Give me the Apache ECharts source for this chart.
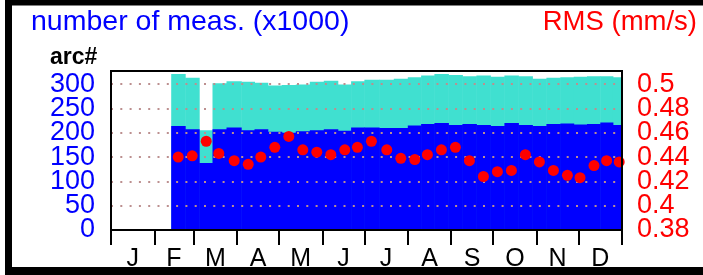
<!DOCTYPE html>
<html lang="en" style="height: 100%">
  <head>
    <meta charset="utf-8" />
  </head>
  <body style="height: 100%; margin: 0; background: #fff">
    <div id="container" style="width: 703px; height: 275px"></div>

    <script
      type="text/javascript"
      src="https://cdn.jsdelivr.net/npm/echarts@6/dist/echarts.min.js"
    ></script>

    <script type="text/javascript">
      // month ticks (day of year) and labels
      var monthStarts = [0, 31, 59, 90, 120, 151, 181, 212, 243, 273, 304, 334, 365];
      var monthMids = [15.5, 45, 74.5, 105, 135.5, 166, 196.5, 227.5, 258, 288.5, 319, 349.5];
      var monthLetters = ["J", "F", "M", "A", "M", "J", "J", "A", "S", "O", "N", "D"];

      // centre day of each ~10 day period
      var periodDays = [
        48, 58, 68, 77, 88, 98, 107, 117, 127, 137, 147, 157, 167, 176, 186, 197,
        207, 217, 226, 236, 246, 256, 266, 276, 286, 296, 306, 316, 326, 335, 345,
        354, 363,
      ];
      // number of measurements (x1000), all / arc
      var totalMeas = [
        321, 313, 205, 302, 306, 305, 303, 297, 298, 299, 305, 307, 299, 306, 309,
        309, 311, 314, 318, 321, 319, 316, 318, 315, 318, 316, 311, 313, 314, 315,
        316, 316, 314,
      ];
      var arcMeas = [
        214, 207, 138, 207, 211, 205, 207, 202, 200, 203, 205, 207, 204, 211, 211,
        210, 210, 215, 218, 220, 216, 218, 216, 214, 220, 216, 214, 218, 219, 217,
        218, 221, 216,
      ];
      // RMS (mm/s)
      var rmsVals = [
        0.44, 0.441, 0.453, 0.443, 0.437, 0.434, 0.44, 0.448, 0.457, 0.446, 0.444,
        0.442, 0.446, 0.448, 0.453, 0.446, 0.439, 0.438, 0.442, 0.446, 0.448,
        0.437, 0.424, 0.428, 0.429, 0.442, 0.436, 0.429, 0.425, 0.423, 0.433,
        0.437, 0.436,
      ];

      var FONT = "Liberation Sans, Arial, sans-serif";
      var COUNT_MIN = 0, COUNT_MAX = 327, COUNT_STEP = 50;
      var RMS_MIN = 0.38, RMS_MAX = 0.5108, RMS_STEP = 0.02;

      function barItem(values, color) {
        return function (params, api) {
          var i = params.dataIndex;
          var d = periodDays;
          var n = d.length;
          var left = i > 0 ? (d[i - 1] + d[i]) / 2 : d[i] - (d[1] - d[0]) / 2;
          var right = i < n - 1 ? (d[i] + d[i + 1]) / 2 : d[i] + (d[i] - d[i - 1]) / 2;
          var p0 = api.coord([left, values[i]]);
          var p1 = api.coord([right, 0]);
          return {
            type: "rect",
            shape: { x: p0[0], y: p0[1], width: p1[0] - p0[0] + 0.5, height: p1[1] - p0[1] },
            style: { fill: color },
          };
        };
      }

      // the tick labels sit closer than their height, so even and odd ones
      // go on two axes sharing one scale (keeps echarts from dropping any)
      function countAxis(even) {
        return {
          type: "value",
          position: "left",
          min: COUNT_MIN,
          max: COUNT_MAX,
          interval: COUNT_STEP,
          z: 3,
          axisLine: { show: false },
          axisTick: { show: false },
          splitLine: {
            show: even,
            lineStyle: { color: "#bc8f8f", width: 2, type: [2, 7.3] },
          },
          axisLabel: {
            color: "#0000ff",
            fontSize: 27,
            fontFamily: FONT,
            margin: 16,
            showMinLabel: even,
            showMaxLabel: false,
            formatter: function (v) {
              var k = Math.round((v - COUNT_MIN) / COUNT_STEP);
              return (k % 2 === 0) === even ? String(v) : "";
            },
          },
        };
      }

      function rmsAxis(even) {
        return {
          type: "value",
          position: "right",
          min: RMS_MIN,
          max: RMS_MAX,
          interval: RMS_STEP,
          axisLine: { show: false },
          axisTick: { show: false },
          splitLine: { show: false },
          axisLabel: {
            color: "#ff0000",
            fontSize: 27,
            fontFamily: FONT,
            margin: 15,
            showMinLabel: even,
            showMaxLabel: false,
            formatter: function (v) {
              var k = Math.round((v - RMS_MIN) / RMS_STEP);
              return (k % 2 === 0) === even ? String(parseFloat(v.toFixed(2))) : "";
            },
          },
        };
      }

      var dom = document.getElementById("container");
      var myChart = echarts.init(dom, null, { renderer: "canvas" });

      var option = {
        animation: false,
        backgroundColor: "#fff",
        grid: {
          left: 111,
          right: 81,
          top: 71,
          bottom: 45,
          show: true,
          z: 6,
          borderColor: "#000",
          borderWidth: 2,
          backgroundColor: "transparent",
        },
        graphic: [
          { type: "rect", shape: { x: 5, y: 0, width: 698, height: 5.5 }, style: { fill: "#000" } },
          { type: "rect", shape: { x: 5, y: 0, width: 7, height: 275 }, style: { fill: "#000" } },
          { type: "rect", shape: { x: 5, y: 267, width: 698, height: 8 }, style: { fill: "#000" } },
          {
            type: "text",
            left: 31,
            top: 8,
            style: { text: "number of meas. (x1000)", fill: "#0000ff", font: "28.5px " + FONT },
          },
          {
            type: "text",
            right: 6,
            top: 8,
            style: { text: "RMS (mm/s)", fill: "#ff0000", font: "27.5px " + FONT },
          },
          {
            type: "text",
            left: 50,
            top: 46,
            style: { text: "arc#", fill: "#000", font: "bold 23px " + FONT },
          },
        ],
        xAxis: {
          type: "value",
          min: 0,
          max: 365,
          splitLine: { show: false },
          axisLine: { show: true, lineStyle: { color: "#000", width: 2 } },
          axisTick: {
            show: true,
            customValues: monthStarts,
            length: 15,
            lineStyle: { color: "#000", width: 2 },
          },
          axisLabel: {
            customValues: monthMids,
            margin: 17,
            color: "#000",
            fontSize: 25,
            fontFamily: FONT,
            formatter: function (v) {
              return monthLetters[monthMids.indexOf(v)];
            },
          },
        },
        yAxis: [countAxis(true), rmsAxis(true), countAxis(false), rmsAxis(false)],
        series: [
          {
            type: "custom",
            clip: true,
            z: 1,
            renderItem: barItem(totalMeas, "#40e0d0"),
            data: periodDays.map(function (d, i) { return [d, totalMeas[i]]; }),
          },
          {
            type: "custom",
            clip: true,
            z: 2,
            renderItem: barItem(arcMeas, "#0000ff"),
            data: periodDays.map(function (d, i) { return [d, arcMeas[i]]; }),
          },
          {
            type: "scatter",
            yAxisIndex: 1,
            z: 5,
            symbolSize: 11,
            itemStyle: { color: "#ff0000", opacity: 1 },
            data: periodDays.map(function (d, i) { return [d, rmsVals[i]]; }),
          },
        ],
      };

      myChart.setOption(option);
      window.addEventListener("resize", myChart.resize);
    </script>
  </body>
</html>
